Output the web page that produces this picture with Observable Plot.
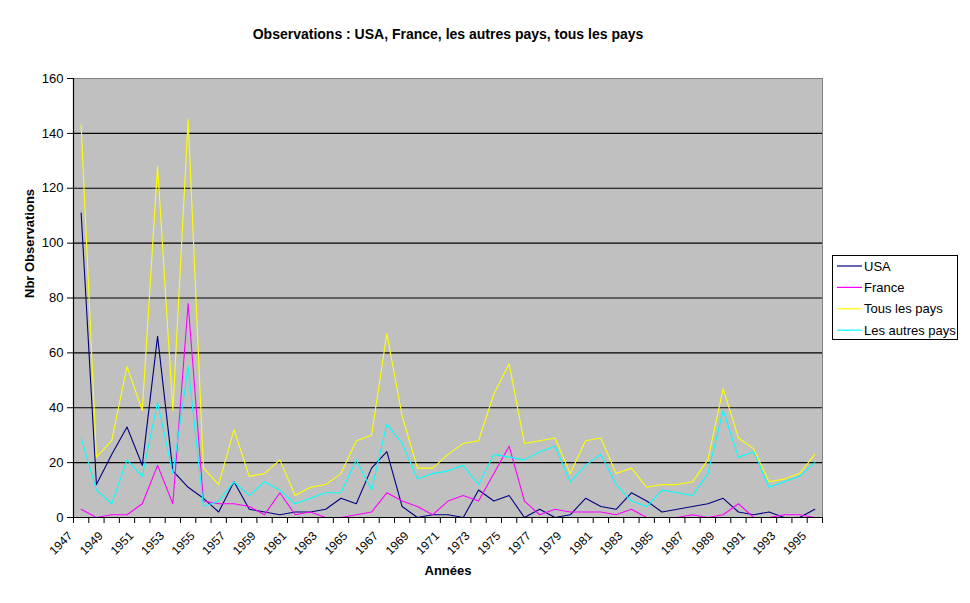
<!DOCTYPE html>
<html><head><meta charset="utf-8">
<script src="https://cdn.jsdelivr.net/npm/d3@7"></script>
<script src="https://cdn.jsdelivr.net/npm/@observablehq/plot@0.6"></script>
<style>
html,body{margin:0;padding:0;background:#fff;}
#chart svg{display:block;}
</style></head><body><div id="chart"></div>
<script>
const years = [1947,1948,1949,1950,1951,1952,1953,1954,1955,1956,1957,1958,1959,1960,1961,1962,1963,1964,1965,1966,1967,1968,1969,1970,1971,1972,1973,1974,1975,1976,1977,1978,1979,1980,1981,1982,1983,1984,1985,1986,1987,1988,1989,1990,1991,1992,1993,1994,1995];
const xTickLabels = [1947,1949,1951,1953,1955,1957,1959,1961,1963,1965,1967,1969,1971,1973,1975,1977,1979,1981,1983,1985,1987,1989,1991,1993,1995];
const yTicks = [0,20,40,60,80,100,120,140,160];
const seriesNames = ["USA","France","Tous les pays","Les autres pays"];
const seriesColors = ["#000080","#FF00FF","#FFFF00","#00FFFF"];
const usa = [111,12,23,33,19,66,17,11,7,2,13,3,2,1,2,2,3,7,5,18,24,4,0,1,1,0,10,6,8,0,3,0,1,7,4,3,9,6,2,3,4,5,7,2,1,2,0,0,3];
const france = [3,0,1,1,5,19,5,78,6,5,5,4,1,9,1,2,0,0,1,2,9,6,4,1,6,8,6,16,26,6,1,3,2,2,2,1,3,0,0,0,1,0,1,5,0,0,1,1,0];
const tousLesPays = [143,22,28,55,39,128,39,145,18,12,32,15,16,21,8,11,12,16,28,30,67,37,18,18,23,27,28,45,56,27,28,29,16,28,29,16,18,11,12,12,13,21,47,29,25,13,14,16,23];
const autresPays = [29,10,5,21,15,42,16,55,4,6,13,8,13,10,5,7,9,9,21,10,34,27,14,16,17,19,12,23,22,21,24,26,13,19,23,12,6,4,10,9,8,16,39,22,24,11,13,15,20];
const title = "Observations : USA, France, les autres pays, tous les pays";
const xTitle = "Années";
const yTitle = "Nbr Observations";

const seriesValues = [usa, france, tousLesPays, autresPays];
const data = [];
seriesNames.forEach((name, s) => years.forEach((year, i) => data.push({series: name, year, value: seriesValues[s][i]})));
const xDomain = [years[0] - 0.5, years[years.length - 1] + 0.5];
const boundaries = [xDomain[0], ...years.map(y => y + 0.5)];
const font = "'Liberation Sans', Arial, sans-serif";

const chart = Plot.plot({
  width: 970, height: 603,
  marginLeft: 73, marginRight: 148, marginTop: 78, marginBottom: 86,
  style: {fontFamily: font, fontSize: "13px", color: "black", background: "white"},
  x: {type: "linear", domain: xDomain},
  y: {domain: [yTicks[0], yTicks[yTicks.length - 1]]},
  color: {domain: seriesNames, range: seriesColors},
  marks: [
    Plot.frame({fill: "#c0c0c0", stroke: "#808080"}),
    Plot.gridY(yTicks.slice(1, -1), {stroke: "black", strokeOpacity: 1, strokeWidth: 1.2}),
    Plot.line(data, {x: "year", y: "value", z: "series", stroke: "series", strokeWidth: 1.1}),
    Plot.ruleY([yTicks[0]], {stroke: "black", strokeWidth: 1.2}),
    Plot.ruleX([xDomain[0]], {stroke: "black", strokeWidth: 1.2}),
    Plot.axisY(yTicks, {tickSize: 6, tickPadding: 4, fontSize: 13, label: null}),
    Plot.axisX(boundaries, {tickSize: 6, tickFormat: () => "", label: null}),
    Plot.text(xTickLabels, {x: d => d, text: d => String(d), frameAnchor: "bottom", rotate: -45, textAnchor: "end", lineAnchor: "bottom", dx: -8, dy: 19, fontSize: 12}),
    Plot.text([yTitle], {text: d => d, frameAnchor: "left", rotate: -90, dx: -44, fontWeight: "bold", fontSize: 13}),
    Plot.text([xTitle], {text: d => d, frameAnchor: "bottom", dy: 57, fontWeight: "bold", fontSize: 13}),
    Plot.text([title], {text: d => d, frameAnchor: "top", dy: -49, fontWeight: "bold", fontSize: 14})
  ]
});
document.getElementById("chart").appendChild(chart);

// Legend (right of plot area)
const svg = d3.select(chart);
const lg = svg.append("g").attr("font-family", font).attr("font-size", 13).attr("text-anchor", "start");
lg.append("rect").attr("x", 832.5).attr("y", 255.5).attr("width", 125).attr("height", 84)
  .attr("fill", "white").attr("stroke", "black");
seriesNames.forEach((name, i) => {
  const y = 266 + i * 21.4;
  lg.append("line").attr("x1", 837).attr("x2", 862).attr("y1", y).attr("y2", y)
    .attr("stroke", seriesColors[i]).attr("stroke-width", 1.2);
  lg.append("text").attr("x", 864).attr("y", y).attr("dy", "0.35em").attr("fill", "black").text(name);
});
</script></body></html>
